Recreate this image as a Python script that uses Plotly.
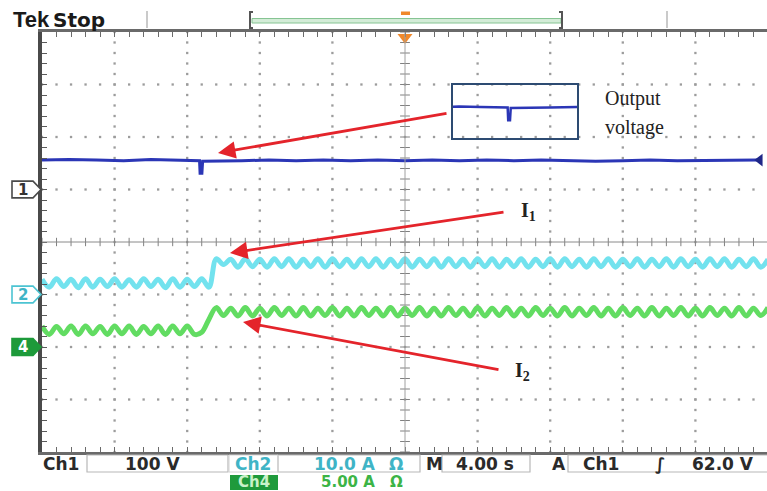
import plotly.graph_objects as go

W, H = 767, 491

# ---------------- data (x: seconds, 4 s/div; y: screen divisions) ----------------
# sample instants of the ripple traces (s)
t_ripple = [
    -20.0, -19.6, -19.2, -18.8, -18.4, -18.0, -17.6, -17.2, -16.8, -16.4,
    -16.0, -15.6, -15.2, -14.8, -14.4, -14.0, -13.6, -13.2, -12.8, -12.4,
    -12.0, -11.6, -11.2, -10.8, -10.4, -10.0, -9.6, -9.2, -8.8, -8.4,
    -8.0, -7.6, -7.2, -6.8, -6.4, -6.0, -5.6, -5.2, -4.8, -4.4,
    -4.0, -3.6, -3.2, -2.8, -2.4, -2.0, -1.6, -1.2, -0.8, -0.4,
    0.0, 0.4, 0.8, 1.2, 1.6, 2.0, 2.4, 2.8, 3.2, 3.6,
    4.0, 4.4, 4.8, 5.2, 5.6, 6.0, 6.4, 6.8, 7.2, 7.6,
    8.0, 8.4, 8.8, 9.2, 9.6, 10.0, 10.4, 10.8, 11.2, 11.6,
    12.0, 12.4, 12.8, 13.2, 13.6, 14.0, 14.4, 14.8, 15.2, 15.6,
    16.0, 16.4, 16.8, 17.2, 17.6, 18.0, 18.4, 18.8, 19.2, 19.6,
    20.0,
]

# Ch2 (I1, cyan)
ch2_div = [
    -0.71, -0.86, -0.70, -0.85, -0.71, -0.87, -0.70, -0.86, -0.71, -0.85,
    -0.70, -0.86, -0.72, -0.86, -0.70, -0.85, -0.71, -0.87, -0.70, -0.86,
    -0.71, -0.85, -0.70, -0.86, -0.32, -0.43, -0.33, -0.48, -0.32, -0.47,
    -0.33, -0.48, -0.32, -0.47, -0.32, -0.48, -0.33, -0.47, -0.32, -0.48,
    -0.32, -0.47, -0.33, -0.48, -0.32, -0.47, -0.32, -0.48, -0.33, -0.47,
    -0.32, -0.48, -0.33, -0.47, -0.32, -0.48, -0.32, -0.47, -0.33, -0.48,
    -0.32, -0.47, -0.32, -0.48, -0.33, -0.47, -0.32, -0.48, -0.33, -0.47,
    -0.32, -0.48, -0.32, -0.47, -0.33, -0.48, -0.32, -0.47, -0.32, -0.48,
    -0.33, -0.47, -0.32, -0.48, -0.33, -0.47, -0.32, -0.48, -0.32, -0.47,
    -0.33, -0.48, -0.32, -0.47, -0.32, -0.48, -0.33, -0.47, -0.32, -0.48,
    -0.33,
]

# Ch4 (I2, green)
ch4_div = [
    -1.60, -1.76, -1.61, -1.75, -1.60, -1.76, -1.60, -1.75, -1.61, -1.76,
    -1.60, -1.75, -1.60, -1.76, -1.61, -1.75, -1.60, -1.76, -1.60, -1.75,
    -1.60, -1.76, -1.72, -1.47, -1.25, -1.40, -1.26, -1.41, -1.25, -1.41,
    -1.26, -1.41, -1.25, -1.40, -1.26, -1.41, -1.25, -1.41, -1.26, -1.40,
    -1.25, -1.41, -1.26, -1.41, -1.25, -1.40, -1.26, -1.41, -1.25, -1.41,
    -1.26, -1.40, -1.25, -1.41, -1.26, -1.41, -1.25, -1.40, -1.26, -1.41,
    -1.25, -1.41, -1.26, -1.40, -1.25, -1.41, -1.26, -1.41, -1.25, -1.40,
    -1.26, -1.41, -1.25, -1.41, -1.26, -1.40, -1.25, -1.41, -1.26, -1.41,
    -1.25, -1.40, -1.26, -1.41, -1.25, -1.41, -1.26, -1.40, -1.25, -1.41,
    -1.26, -1.41, -1.25, -1.40, -1.26, -1.41, -1.25, -1.41, -1.26, -1.40,
    -1.25,
]

# Ch1 (output voltage, blue)
ch1_t = [-20.0, -18.5, -17.0, -15.5, -14.0, -12.8, -11.6, -11.32, -11.29, -11.19,
         -11.15, -10.6, -9.0, -7.5, -6.0, -4.5, -3.0, -1.5, 0.0, 1.5,
         3.0, 4.5, 6.0, 7.5, 9.0, 10.5, 12.0, 13.5, 15.0, 16.5, 18.0, 19.4]
ch1_div = [1.56, 1.57, 1.56, 1.55, 1.57, 1.56, 1.55, 1.55, 1.31, 1.31,
           1.54, 1.54, 1.55, 1.56, 1.55, 1.56, 1.55, 1.56, 1.55, 1.56,
           1.55, 1.56, 1.55, 1.56, 1.55, 1.54, 1.55, 1.56, 1.55, 1.55, 1.56, 1.56]

ch1_trig_level_div = 1.56
ch_ground_div = {"1": 1.0, "2": -1.0, "4": -2.0}

# status texts
status_row1 = ["Ch1", "100 V", "Ch2", "10.0 A", "Ω", "M", "4.00 s", "A", "Ch1", "∫", "62.0 V"]
status_row2 = ["Ch4", "5.00 A", "Ω"]

# ---------------- colours ----------------
C_CH1 = "#2b36b6"
C_CH2 = "#72e2ee"
C_CH2_TXT = "#3fb4c6"
C_CH4 = "#62dc62"
C_CH4_TXT = "#3cb446"
C_RED = "#e4242b"
GRID = "#9c9c9c"


def px(x):
    return x / W


def py(y):
    return 1 - y / H


X_RANGE = [-20, 19.945]
fig = go.Figure()

# graticule dots
gx, gy = [], []
for yv in [-3, -2, -1, 1, 2, 3]:
    for k in range(51):
        gx.append(-20 + 0.8 * k)
        gy.append(yv)
for xv in [-16, -12, -8, -4, 4, 8, 12, 16]:
    for k in range(41):
        gx.append(xv)
        gy.append(-4 + 0.2 * k)
fig.add_trace(go.Scatter(x=gx, y=gy, mode="markers", hoverinfo="skip",
                         marker=dict(symbol="square", size=2.3, color=GRID, line=dict(width=0))))

# centre cross-hair ticks
fig.add_trace(go.Scatter(x=[-20 + 0.8 * k for k in range(51)], y=[0] * 51, mode="markers",
                         hoverinfo="skip",
                         marker=dict(symbol="line-ns", size=6, line=dict(width=1, color="#808080"))))
fig.add_trace(go.Scatter(x=[0] * 41, y=[-4 + 0.2 * k for k in range(41)], mode="markers",
                         hoverinfo="skip",
                         marker=dict(symbol="line-ew", size=7, line=dict(width=1, color="#808080"))))

# waveforms
fig.add_trace(go.Scatter(x=t_ripple, y=ch2_div, mode="lines",
                         line=dict(color=C_CH2, width=5, shape="spline", smoothing=1.0)))
fig.add_trace(go.Scatter(x=t_ripple, y=ch4_div, mode="lines",
                         line=dict(color=C_CH4, width=5, shape="spline", smoothing=1.0)))
fig.add_trace(go.Scatter(x=ch1_t, y=ch1_div, mode="lines", line=dict(color=C_CH1, width=3)))

# trigger level marker (right) and trigger position marker (top)
fig.add_trace(go.Scatter(x=[19.55], y=[ch1_trig_level_div], mode="markers", cliponaxis=False,
                         marker=dict(symbol="triangle-left", size=11, color="#1f2788")))
fig.add_trace(go.Scatter(x=[0], y=[3.9], mode="markers", cliponaxis=False,
                         marker=dict(symbol="triangle-down", size=13, color="#f0882a")))

# inset (zoom of the output voltage)
fig.add_trace(go.Scatter(x=ch1_t, y=ch1_div, mode="lines", xaxis="x2", yaxis="y2",
                         line=dict(color=C_CH1, width=2.5)))

shapes = []
# centre lines
shapes.append(dict(type="line", xref="x", yref="y", x0=X_RANGE[0], x1=X_RANGE[1], y0=0, y1=0,
                   line=dict(color="#8a8a8a", width=1)))
shapes.append(dict(type="line", xref="x", yref="y", x0=0, x1=0, y0=-4, y1=4,
                   line=dict(color="#a0a0a0", width=1)))

# top bar decorations
shapes.append(dict(type="rect", xref="paper", yref="paper", x0=px(252), x1=px(561), y0=py(23), y1=py(18.5),
                   fillcolor="#d3ecd7", line=dict(color="#86c493", width=1)))
for xb, d in [(250, 1), (562, -1)]:
    shapes.append(dict(type="path", xref="paper", yref="paper",
                       path=f"M {px(xb + 3 * d)},{py(12)} L {px(xb)},{py(12)} L {px(xb)},{py(28)} L {px(xb + 3 * d)},{py(28)}",
                       line=dict(color="#555555", width=2)))
for xt in [147, 667]:
    shapes.append(dict(type="line", xref="paper", yref="paper", x0=px(xt), x1=px(xt), y0=py(11), y1=py(28),
                       line=dict(color="#b8b8b8", width=1.5)))
shapes.append(dict(type="rect", xref="paper", yref="paper", x0=px(401), x1=px(410), y0=py(15), y1=py(11.5),
                   fillcolor="#f0882a", line=dict(width=0)))


# channel ground markers
def chan_marker(ydiv, line_c, fill_c):
    h = 0.16
    xa, xb, xc = px(12), px(33), px(41)
    return dict(type="path", xref="paper", yref="y",
                path=f"M {xa},{ydiv + h} L {xb},{ydiv + h} L {xc},{ydiv} L {xb},{ydiv - h} L {xa},{ydiv - h} Z",
                fillcolor=fill_c, line=dict(color=line_c, width=1.6))


shapes.append(chan_marker(ch_ground_div["1"], "#4a4a4a", "white"))
shapes.append(chan_marker(ch_ground_div["2"], "#4cc4d2", "white"))
shapes.append(chan_marker(ch_ground_div["4"], "#1d9a3a", "#1d9a3a"))

# status bar boxes
BOX = "#b8b8b8"
for (x0, x1) in [(87, 228), (278, 420), (442, 530), (568, 770)]:
    shapes.append(dict(type="rect", xref="paper", yref="paper", x0=px(x0), x1=px(x1), y0=py(472), y1=py(455),
                       line=dict(color=BOX, width=1.2)))
shapes.append(dict(type="rect", xref="paper", yref="paper", x0=px(229), x1=px(278), y0=py(472), y1=py(455),
                   line=dict(color="#d4d4d4", width=1)))
shapes.append(dict(type="rect", xref="paper", yref="paper", x0=px(230), x1=px(278), y0=py(490), y1=py(475),
                   fillcolor="#1f9a3c", line=dict(width=0)))

ann = []
SANS = "DejaVu Sans"
SERIF = "Liberation Serif"


def txt(x, y, s, size, color, font=SANS, xanchor="center", bold=True):
    ann.append(dict(xref="paper", yref="paper", x=px(x), y=py(y), text=f"<b>{s}</b>" if bold else s,
                    showarrow=False, xanchor=xanchor, yanchor="middle",
                    font=dict(family=font, size=size, color=color)))


txt(11, 20, "Tek", 22, "#1a1a1a", font="Liberation Sans", xanchor="left")
txt(51, 20.5, "Stop", 20, "#1a1a1a", xanchor="left")

# channel marker labels
for key, col in [("1", "#333333"), ("2", "#3fb4c6"), ("4", "white")]:
    ann.append(dict(xref="paper", yref="y", x=px(23), y=ch_ground_div[key], text=f"<b>{key}</b>",
                    showarrow=False, xanchor="center", yanchor="middle",
                    font=dict(family=SANS, size=15, color=col)))

# status rows
R1, R2 = 463.5, 481.5
SZ = 17
SZ2 = 15
txt(61, R1, status_row1[0], SZ, "#2a2a2a")
txt(152, R1, status_row1[1], SZ, "#2a2a2a")
txt(253, R1, status_row1[2], SZ, C_CH2_TXT)
txt(345, R1, status_row1[3], SZ, C_CH2_TXT)
txt(396, R1, status_row1[4], SZ, C_CH2_TXT)
txt(434, R1, status_row1[5], SZ, "#2a2a2a")
txt(485, R1, status_row1[6], SZ, "#2a2a2a")
txt(559, R1, status_row1[7], SZ, "#2a2a2a")
txt(601, R1, status_row1[8], SZ, "#2a2a2a")
txt(660, R1, status_row1[9], SZ, "#2a2a2a")
txt(690, R1, status_row1[10], SZ, "#2a2a2a", xanchor="left")
txt(254, R2, status_row2[0], SZ2, "#c9f2c9")
txt(348, R2, status_row2[1], SZ2, C_CH4_TXT)
txt(396, R2, status_row2[2], SZ2, C_CH4_TXT)

# annotation labels
txt(603, 98, "Output", 20, "#222222", font=SERIF, xanchor="left", bold=False)
txt(603, 127, "voltage", 20, "#222222", font=SERIF, xanchor="left", bold=False)
txt(519, 211, "I<sub>1</sub>", 20, "#222222", font=SERIF, xanchor="left")
txt(513, 371, "I<sub>2</sub>", 20, "#222222", font=SERIF, xanchor="left")

# red arrows (tip, tail) in screen pixels
for (tx, ty, sx, sy) in [(218, 153, 448, 113), (230, 253, 505, 212), (243, 322, 500, 370)]:
    ann.append(dict(xref="paper", yref="paper", x=px(tx), y=py(ty), ax=sx - tx, ay=sy - ty,
                    axref="pixel", ayref="pixel", text="", showarrow=True,
                    arrowhead=2, arrowsize=1.25, arrowwidth=2.8, arrowcolor=C_RED, standoff=0))

fig.update_layout(
    width=W, height=H, margin=dict(l=0, r=0, t=0, b=0),
    paper_bgcolor="white", plot_bgcolor="rgba(0,0,0,0)", showlegend=False,
    xaxis=dict(domain=[px(42), 1], range=X_RANGE, showgrid=False, zeroline=False,
               showticklabels=False, showline=True, linecolor="#6a6a6a", linewidth=3,
               mirror="ticks", ticks="inside", ticklen=5, tickwidth=1, tickcolor="#6a6a6a",
               tick0=-20, dtick=0.8, fixedrange=True),
    yaxis=dict(domain=[39 / H, 459 / H], range=[-4, 4], showgrid=False, zeroline=False,
               showticklabels=False, showline=True, linecolor="#4a4a4a", linewidth=3.5,
               ticks="inside", ticklen=5, tickwidth=1, tickcolor="#5a5a5a",
               tick0=-4, dtick=0.2, fixedrange=True),
    xaxis2=dict(domain=[px(453), px(577)], range=[-14.33, -7.5], anchor="y2",
                showgrid=False, zeroline=False, showticklabels=False, ticks="",
                showline=True, mirror=True, linecolor="#2d4b72", linewidth=2.2),
    yaxis2=dict(domain=[py(138), py(85)], range=[0.97, 1.98], anchor="x2",
                showgrid=False, zeroline=False, showticklabels=False, ticks="",
                showline=True, mirror=True, linecolor="#2d4b72", linewidth=2.2),
    shapes=shapes, annotations=ann,
)

fig.write_html("out.html", config={"displayModeBar": False},
               post_script="document.body.style.margin='0px';document.body.style.overflow='hidden';")
